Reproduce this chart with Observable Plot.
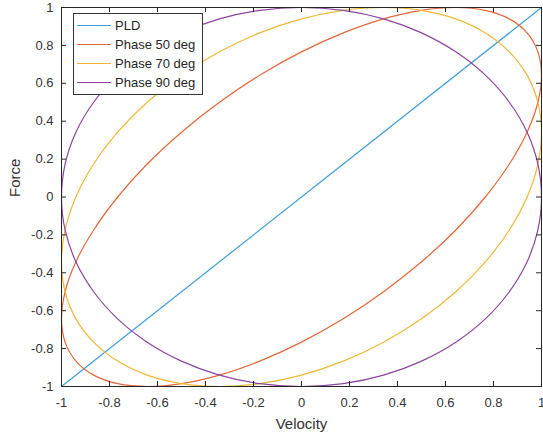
<!DOCTYPE html>
<html>
<head>
<meta charset="utf-8">
<script src="https://cdn.jsdelivr.net/npm/d3@7"></script>
<script src="https://cdn.jsdelivr.net/npm/@observablehq/plot@0.6"></script>
<style>
  body { margin: 0; background: #fff; }
  #wrap { position: relative; width: 543px; height: 439px; font-family: "Liberation Sans", Arial, sans-serif; }
  #legend { position: absolute; left: 73px; top: 13px; width: 130px; background: #fff; border: 1px solid #333; padding: 2px 0 2px 0; font-size: 13px; color: #262626; box-sizing: border-box; }
  #legend .row { display: flex; align-items: center; height: 19px; }
  #legend .sw { width: 34px; height: 0; border-top: 1.3px solid; margin-left: 3px; margin-right: 4px; }
</style>
</head>
<body>
<div id="wrap"><div id="chart"></div><div id="legend"></div></div>
<script>
// Series names and colors
const seriesNames = ["PLD", "Phase 50 deg", "Phase 70 deg", "Phase 90 deg"];
const seriesColors = ["#3f9fdc", "#e2683a", "#efb937", "#8e45a0"];

// Tick values
const ticks = [-1, -0.8, -0.6, -0.4, -0.2, 0, 0.2, 0.4, 0.6, 0.8, 1];

// PLD line
const pldX = [-1, 1];
const pldY = [-1, 1];

// Velocity samples shared by the loops
const loopX = [0, 0.174, 0.342, 0.5, 0.643, 0.766, 0.866, 0.940, 0.985, 1, 0.985, 0.940, 0.866, 0.766, 0.643, 0.5, 0.342, 0.174,
               0, -0.174, -0.342, -0.5, -0.643, -0.766, -0.866, -0.940, -0.985, -1, -0.985, -0.940, -0.866, -0.766, -0.643, -0.5, -0.342, -0.174];
// Force for each phase loop
const phase50Y = [0.766, 0.866, 0.940, 0.985, 1, 0.985, 0.940, 0.866, 0.766, 0.643, 0.5, 0.342, 0.174, 0, -0.174, -0.342, -0.5, -0.643,
                  -0.766, -0.866, -0.940, -0.985, -1, -0.985, -0.940, -0.866, -0.766, -0.643, -0.5, -0.342, -0.174, 0, 0.174, 0.342, 0.5, 0.643];
const phase70Y = [0.940, 0.985, 1, 0.985, 0.940, 0.866, 0.766, 0.643, 0.5, 0.342, 0.174, 0, -0.174, -0.342, -0.5, -0.643, -0.766, -0.866,
                  -0.940, -0.985, -1, -0.985, -0.940, -0.866, -0.766, -0.643, -0.5, -0.342, -0.174, 0, 0.174, 0.342, 0.5, 0.643, 0.766, 0.866];
const phase90Y = [1, 0.985, 0.940, 0.866, 0.766, 0.643, 0.5, 0.342, 0.174, 0, -0.174, -0.342, -0.5, -0.643, -0.766, -0.866, -0.940, -0.985,
                  -1, -0.985, -0.940, -0.866, -0.766, -0.643, -0.5, -0.342, -0.174, 0, 0.174, 0.342, 0.5, 0.643, 0.766, 0.866, 0.940, 0.985];

const pld = pldX.map((x, i) => ({x, y: pldY[i]}));
const loops = [phase50Y, phase70Y, phase90Y].map(ys => loopX.map((x, i) => ({x, y: ys[i]})));

const axisColor = "#262626";
const chart = Plot.plot({
  width: 543,
  height: 439,
  marginLeft: 61,
  marginRight: 2,
  marginTop: 7,
  marginBottom: 53,
  style: {fontFamily: "'Liberation Sans', Arial, sans-serif", fontSize: "13px", color: "#333", background: "#fff"},
  x: {domain: [-1, 1]},
  y: {domain: [-1, 1]},
  marks: [
    Plot.line(pld, {x: "x", y: "y", stroke: seriesColors[0], strokeWidth: 1.2}),
    Plot.line(loops[0], {x: "x", y: "y", stroke: seriesColors[1], strokeWidth: 1.2, curve: "catmull-rom-closed"}),
    Plot.line(loops[1], {x: "x", y: "y", stroke: seriesColors[2], strokeWidth: 1.2, curve: "catmull-rom-closed"}),
    Plot.line(loops[2], {x: "x", y: "y", stroke: seriesColors[3], strokeWidth: 1.2, curve: "catmull-rom-closed"}),
    // inward ticks
    Plot.tickX(ticks, {x: d => d, stroke: axisColor, insetTop: 374}),
    Plot.tickX(ticks, {x: d => d, stroke: axisColor, insetBottom: 374}),
    Plot.tickY(ticks, {y: d => d, stroke: axisColor, insetRight: 475}),
    Plot.tickY(ticks, {y: d => d, stroke: axisColor, insetLeft: 475}),
    Plot.frame({stroke: axisColor, strokeWidth: 1}),
    Plot.axisX(ticks, {tickSize: 0, tickPadding: 11, label: null, tickFormat: d => String(d), fill: "#333"}),
    Plot.axisY(ticks, {tickSize: 0, tickPadding: 8, label: null, tickFormat: d => String(d), fill: "#333"}),
    Plot.text(["Velocity"], {frameAnchor: "bottom", dy: 42, text: d => d, fontSize: 15, fill: "#333"}),
    Plot.text(["Force"], {frameAnchor: "left", dx: -46, text: d => d, rotate: -90, fontSize: 15, fill: "#333"})
  ]
});
document.getElementById("chart").appendChild(chart);

const legend = d3.select("#legend");
seriesNames.forEach((name, i) => {
  const row = legend.append("div").attr("class", "row");
  row.append("div").attr("class", "sw").style("border-color", seriesColors[i]);
  row.append("span").text(name);
});
</script>
</body>
</html>
